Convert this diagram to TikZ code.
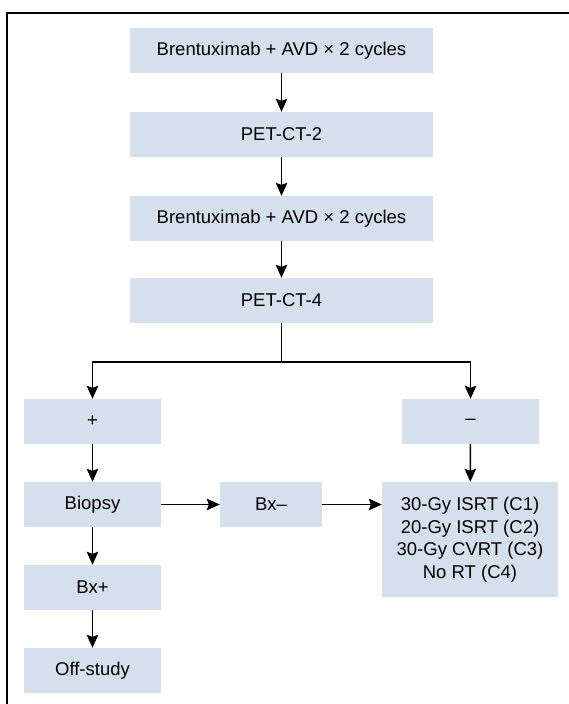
\documentclass[tikz,border=0pt]{standalone}
\usepackage{fontspec}
\setmainfont{Liberation Sans}
\usetikzlibrary{arrows.meta}
\definecolor{boxfill}{RGB}{214,224,237}
\begin{document}
\begin{tikzpicture}[x=1pt,y=-1pt,
  box/.style={rectangle, fill=boxfill, inner sep=0pt, align=center,
    font=\fontsize{18.5}{22.5}\selectfont},
  link/.style={line width=1.6pt},
  arr/.style={link, -{Stealth[length=13pt,width=11.5pt,inset=2pt]}}]
\useasboundingbox (0,0) rectangle (569,704);
% frame along the top and left edges
\draw[line width=1.6pt] (7,704) |- (569,13);

% main column
\node[box, minimum width=303pt, minimum height=45pt] (c1) at (281.5,50.5) {Brentuximab + AVD × 2 cycles};
\node[box, minimum width=303pt, minimum height=45pt] (pet2) at (281.5,134.5) {PET-CT-2};
\node[box, minimum width=303pt, minimum height=45pt] (c2) at (281.5,218.5) {Brentuximab + AVD × 2 cycles};
\node[box, minimum width=303pt, minimum height=45pt] (pet4) at (281.5,300.5) {PET-CT-4};

% branches
\node[box, minimum width=137pt, minimum height=45pt] (pos) at (92.5,421.5) {+};
\node[box, minimum width=137pt, minimum height=45pt] (neg) at (470.5,421.5) {–};
\node[box, minimum width=137pt, minimum height=45pt] (bio) at (92.5,504.5) {Biopsy};
\node[box, minimum width=102pt, minimum height=45pt] (bxm) at (271,504.5) {Bx–};
\node[box, minimum width=176pt, minimum height=115pt] (rt) at (470,539.5) {30-Gy ISRT (C1)\\20-Gy ISRT (C2)\\30-Gy CVRT (C3)\\No RT (C4)};
\node[box, minimum width=137pt, minimum height=45pt] (bxp) at (92.5,587.5) {Bx+};
\node[box, minimum width=137pt, minimum height=45pt] (off) at (92.5,670.5) {Off-study};

\coordinate (split) at (281.5,361.7);

% connectors
\draw[arr] (c1) -- (pet2);
\draw[arr] (pet2) -- (c2);
\draw[arr] (c2) -- (pet4);
\draw[link] (pet4.south) -- (split);
\draw[arr] (split) -| (pos.north);
\draw[arr] (split) -| (neg.north);
\draw[arr] (pos) -- (bio);
\draw[arr] (bio) -- (bxp);
\draw[arr] (bxp) -- (off);
\draw[arr] (bio) -- (bxm);
\draw[arr] (bxm.east) -- (bxm.east -| rt.west);
\draw[arr] (neg) -- (rt);
\end{tikzpicture}
\end{document}
